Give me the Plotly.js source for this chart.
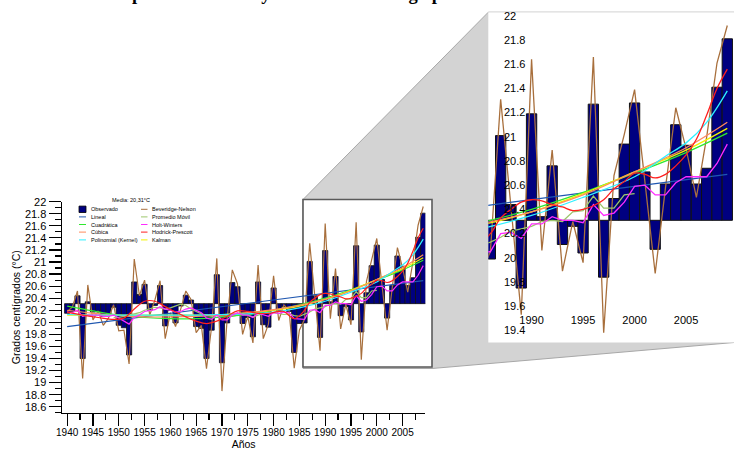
<!DOCTYPE html>
<html><head><meta charset="utf-8">
<script src="https://cdn.plot.ly/plotly-3.0.1.min.js"></script>
<style>html,body{margin:0;padding:0;background:#fff}#chart{width:734px;height:450px}</style>
</head><body><div id="chart"></div>
<script>
// ---------------- data ----------------
const years = [1940,1941,1942,1943,1944,1945,1946,1947,1948,1949,
  1950,1951,1952,1953,1954,1955,1956,1957,1958,1959,
  1960,1961,1962,1963,1964,1965,1966,1967,1968,1969,
  1970,1971,1972,1973,1974,1975,1976,1977,1978,1979,
  1980,1981,1982,1983,1984,1985,1986,1987,1988,1989,
  1990,1991,1992,1993,1994,1995,1996,1997,1998,1999,
  2000,2001,2002,2003,2004,2005,2006,2007,2008,2009];
const observado = [20.15,20.18,20.44,19.40,20.34,20.17,20.18,20.10,20.13,20.25,
  19.95,19.91,19.46,20.67,20.46,20.63,20.20,20.28,20.61,19.94,
  20.20,19.99,20.27,20.45,20.37,19.93,19.90,19.40,19.87,20.79,
  19.33,19.99,20.66,20.59,19.98,20.08,19.76,20.67,19.96,19.92,
  20.57,20.20,20.26,20.18,19.50,19.98,19.99,21.01,20.44,19.75,
  21.19,20.34,20.76,20.11,20.26,20.04,21.27,19.84,20.49,20.94,
  21.28,20.71,20.07,20.61,21.10,20.93,20.61,20.74,21.41,21.81];
const beveridgeNelson = [20.18,20.25,20.52,19.07,20.62,20.04,20.19,19.95,20.07,20.29,
  19.86,19.87,19.31,21.05,20.44,20.70,20.12,20.37,20.69,19.73,
  20.16,19.93,20.22,20.52,20.38,19.83,19.95,19.23,19.93,21.06,
  18.86,20.05,20.87,20.64,19.80,20.10,19.66,20.95,19.73,19.97,
  20.77,20.03,20.29,20.20,19.24,19.87,20.05,21.31,20.42,19.53,
  21.64,20.06,20.89,19.89,20.30,19.96,21.66,19.38,20.68,21.02,
  21.39,20.62,19.87,20.58,21.24,20.90,20.50,21.00,21.61,21.92];
const media = 20.31;

const linealYears = [1940, 2009];
const lineal = [19.93, 20.69];

const trendYears = [1940,1945,1950,1955,1960,1965,1970,1975,1980,1985,1990,1995,2000,2005,2009];
const cuadratica = [20.27,20.19,20.12,20.08,20.06,20.06,20.09,20.13,20.20,20.29,20.40,20.54,20.70,20.87,21.03];
const cubica     = [20.20,20.15,20.11,20.09,20.09,20.10,20.12,20.16,20.21,20.28,20.38,20.52,20.71,20.91,21.12];
const kalman     = [20.12,20.12,20.12,20.12,20.12,20.12,20.13,20.16,20.20,20.27,20.38,20.53,20.71,20.89,21.07];

const kernelYears = [1940,1945,1950,1955,1960,1965,1970,1975,1980,1985,1990,1995,2000,2003,2005,2007,2009];
const kernel = [20.13,20.12,20.12,20.12,20.12,20.12,20.13,20.14,20.17,20.24,20.35,20.50,20.67,20.84,20.95,21.12,21.38];

const hpYears = [1940,1943,1946,1949,1951,1953,1955,1957,1959,1961,1963,1965,1967,1969,1971,1973,1975,1977,1979,1981,1982,1984,1986,
  1987,1988,1989,1990,1991,1992,1993,1994,1995,1996,1997,1998,1999,2000,2001,2002,2003,2004,2005,2006,2007,2008,2009];
const hodrickPrescott = [20.17,20.12,20.08,20.05,20.07,20.22,20.35,20.35,20.26,20.17,20.09,20.02,19.98,20.02,20.10,20.19,20.18,20.15,20.15,20.18,20.18,20.06,20.20,
  20.33,20.40,20.46,20.48,20.47,20.44,20.42,20.39,20.40,20.43,20.48,20.57,20.63,20.70,20.69,20.66,20.69,20.76,20.85,20.98,21.18,21.40,21.56];

const holtWinters = [20.17,20.16,20.20,20.10,20.12,20.12,20.12,20.10,20.10,20.12,
  20.07,20.03,19.97,20.08,20.12,20.18,20.20,20.21,20.26,20.22,
  20.20,20.17,20.18,20.22,20.24,20.20,20.16,20.07,20.05,20.12,
  20.04,20.04,20.12,20.16,20.12,20.12,20.08,20.15,20.13,20.10,
  20.16,20.15,20.17,20.16,20.06,20.05,20.05,20.20,20.21,20.16,
  20.28,20.28,20.34,20.31,20.31,20.29,20.44,20.35,20.37,20.46,
  20.59,20.60,20.52,20.52,20.62,20.67,20.67,20.67,20.78,20.94];

const pmYears = [1949,1950,1951,1952,1953,1954,1955,1956,1957,1958,1959,
  1960,1961,1962,1963,1964,1965,1966,1967,1968,1969,
  1970,1971,1972,1973,1974,1975,1976,1977,1978,1979,
  1980,1981,1982,1983,1984,1985,1986,1987,1988,1989,
  1990,1991,1992,1993,1994,1995,1996,1997,1998,1999,2000];
const promedioMovil = [20.08,20.08,20.10,20.12,20.14,20.16,20.20,20.22,20.25,20.24,20.22,
  20.24,20.27,20.30,20.28,20.22,20.18,20.14,20.12,20.10,20.08,
  20.10,20.11,20.10,20.12,20.14,20.12,20.09,20.12,20.14,20.17,
  20.16,20.14,20.13,20.14,20.11,20.10,20.13,20.17,20.22,20.24,
  20.26,20.30,20.31,20.30,20.38,20.39,20.51,20.41,20.41,20.52,20.53];

const legendCol1 = ['Observado','Lineal','Cuadrática','Cúbica','Polinomial (Kernel)'];
const legendCol2 = ['Beveridge-Nelson','Promedio Móvil','Holt-Winters','Hodrick-Prescott','Kalman'];
const mediaLabel = 'Media: 20,31°C';
const chartTitle = 'Serie del promedio anual y tendencias de largo plazo';

// ---------------- styles ----------------
const C = {
  obs:'#000080', bn:'#a86f3c', lin:'#1f57b0', cua:'#2fe82f', cub:'#ff8a5c',
  ker:'#2ef0ff', pm:'#9cc66b', hw:'#ff2cff', hp:'#ff1f1f', kal:'#f2f200'
};
const W = 734, H = 450;
const px = x => x / W;
const py = y => 1 - y / H;
const FONT = 'Liberation Sans, Arial, sans-serif';

function lines(xa, ya, lw) {
  const L = (x, y, color, name, shape) => ({type:'scatter', mode:'lines', x, y, name,
    xaxis:xa, yaxis:ya, showlegend:false, hoverinfo:'skip',
    line:{color, width:lw, shape: shape || 'linear', smoothing:1}});
  return [
    {type:'bar', x:years, y:observado.map(v => v - media), base:media, name:'Observado',
      xaxis:xa, yaxis:ya, showlegend:false, hoverinfo:'skip', width:1,
      marker:{color:C.obs, line:{color:'#111', width: xa === 'x' ? 0.8 : 1}}},
    L(years, beveridgeNelson, C.bn, 'Beveridge-Nelson'),
    L(linealYears, lineal, C.lin, 'Lineal'),
    L(pmYears, promedioMovil, C.pm, 'Promedio Móvil'),
    L(trendYears, cuadratica, C.cua, 'Cuadrática', 'spline'),
    L(trendYears, kalman, C.kal, 'Kalman', 'spline'),
    L(trendYears, cubica, C.cub, 'Cúbica', 'spline'),
    L(kernelYears, kernel, C.ker, 'Polinomial (Kernel)', 'spline'),
    L(years, holtWinters, C.hw, 'Holt-Winters'),
    L(hpYears, hodrickPrescott, C.hp, 'Hodrick-Prescott', 'spline')
  ];
}
const data = lines('x', 'y', 1.2).concat(lines('x2', 'y2', 1.3));

// ---------------- decorations ----------------
const shapes = [];
shapes.push({type:'path', xref:'paper', yref:'paper', layer:'below',
  path:`M ${px(303)},${py(199.5)} L ${px(488.3)},${py(12.2)} L ${px(734)},${py(12.2)} L ${px(734)},${py(342.5)} L ${px(432)},${py(368.5)} L ${px(303)},${py(368.5)} Z`,
  fillcolor:'#d3d3d3', line:{color:'#a8a8a8', width:1}});
shapes.push({type:'rect', xref:'paper', yref:'paper', layer:'below',
  x0:px(303), x1:px(432), y0:py(367), y1:py(199.5),
  fillcolor:'#ffffff', line:{color:'#5a5a5a', width:1.6}});
shapes.push({type:'rect', xref:'paper', yref:'paper', layer:'below',
  x0:px(488.3), x1:1, y0:py(342.5), y1:py(12.2),
  fillcolor:'#ffffff', line:{width:0}});

const annotations = [];
const rowY = [209.3, 216.9, 224.5, 232.1, 239.9];
const col1Colors = [C.obs, C.lin, C.cua, C.cub, C.ker];
const col2Colors = [C.bn, C.pm, C.hw, C.hp, C.kal];
const lfont = {family:FONT, size:5.5, color:'#000'};
rowY.forEach((y, i) => {
  if (i === 0) {
    shapes.push({type:'rect', xref:'paper', yref:'paper', x0:px(79), x1:px(86), y0:py(y+3.2), y1:py(y-3.2),
      fillcolor:col1Colors[0], line:{color:'#000', width:0.8}});
  } else {
    shapes.push({type:'line', xref:'paper', yref:'paper', x0:px(79), x1:px(86), y0:py(y), y1:py(y),
      line:{color:col1Colors[i], width:1}});
  }
  shapes.push({type:'line', xref:'paper', yref:'paper', x0:px(141), x1:px(147.5), y0:py(y), y1:py(y),
    line:{color:col2Colors[i], width:1}});
  annotations.push({xref:'paper', yref:'paper', x:px(89.5), y:py(y), xanchor:'left', yanchor:'middle',
    text:legendCol1[i], showarrow:false, font:lfont, borderpad:0});
  annotations.push({xref:'paper', yref:'paper', x:px(150.5), y:py(y), xanchor:'left', yanchor:'middle',
    text:legendCol2[i], showarrow:false, font:lfont, borderpad:0});
});
annotations.push({xref:'paper', yref:'paper', x:px(130.5), y:py(200.3), xanchor:'center', yanchor:'middle',
  text:mediaLabel, showarrow:false, font:lfont, borderpad:0});
annotations.push({xref:'paper', yref:'paper', x:px(57), y:1, xanchor:'left', yanchor:'bottom', yshift:-6,
  text:'<b>' + chartTitle + '</b>', showarrow:false,
  font:{family:'Liberation Serif, Times New Roman, serif', size:18.5, color:'#000'}});

const insetF = {family:FONT, size:11, color:'#000'};
const inset = {range:[1985.8, 2009.65], yrange:[19.3, 22.03]};
const layout = {
  width:W, height:H, margin:{l:0, r:0, t:0, b:0},
  paper_bgcolor:'#ffffff', plot_bgcolor:'rgba(0,0,0,0)',
  showlegend:false, bargap:0, barmode:'overlay',
  xaxis:{domain:[px(62), px(425.3)], range:[1939, 2009.4], anchor:'y',
    showline:true, linecolor:'#000', linewidth:1.5, showgrid:false, zeroline:false,
    ticks:'outside', ticklen:12, tickwidth:1.2, tickcolor:'#000', tick0:1940, dtick:5, tickangle:0,
    ticklabelstandoff:-2,
    minor:{dtick:2.5, ticks:'outside', ticklen:6, tickwidth:1.2, tickcolor:'#000', showgrid:false},
    tickfont:{family:FONT, size:10, color:'#000'},
    title:{text:'Años', font:{family:FONT, size:10.5, color:'#000'}, standoff:7}},
  yaxis:{domain:[py(412.8), py(201.7)], range:[18.5, 22], anchor:'x',
    showline:true, linecolor:'#000', linewidth:1.5, showgrid:false, zeroline:false,
    ticks:'outside', ticklen:12, tickwidth:1.2, tickcolor:'#000', tick0:0, dtick:0.2,
    minor:{dtick:0.1, ticks:'outside', ticklen:6, tickwidth:1.2, tickcolor:'#000', showgrid:false},
    tickfont:{family:FONT, size:11, color:'#000'},
    title:{text:'Grados centígrados (°C)', font:{family:FONT, size:10.5, color:'#000'}, standoff:2}},
  xaxis2:{domain:[px(488.3), 1], range:inset.range, anchor:'free', position:py(311.5), side:'bottom',
    showline:false, showgrid:false, zeroline:false, ticks:'', tick0:1990, dtick:5, tickangle:0,
    tickfont:insetF},
  yaxis2:{domain:[py(342.5), py(12.2)], range:inset.yrange, anchor:'free', position:px(503), side:'right',
    showline:false, showgrid:false, zeroline:false, ticks:'', tick0:0, dtick:0.2,
    tickfont:insetF},
  xaxis3:{overlaying:'x2', anchor:'y3', side:'bottom', range:inset.range,
    showline:true, mirror:true, linecolor:'#000', linewidth:1.2, showgrid:false, zeroline:false, showticklabels:false,
    ticks:'inside', ticklen:6, tickwidth:1.2, tickcolor:'#000', tick0:1990, dtick:5,
    minor:{dtick:2.5, ticks:'inside', ticklen:6, tickwidth:1.2, tickcolor:'#000', showgrid:false}},
  yaxis3:{overlaying:'y2', anchor:'x3', side:'left', range:inset.yrange,
    showline:true, linecolor:'#000', linewidth:1.2, showgrid:false, zeroline:false, showticklabels:false,
    ticks:'inside', ticklen:13, tickwidth:1.2, tickcolor:'#000', tick0:0, dtick:0.2,
    minor:{dtick:0.1, ticks:'inside', ticklen:7, tickwidth:1.2, tickcolor:'#000', showgrid:false}},
  shapes, annotations
};
Plotly.newPlot('chart', data, layout, {displayModeBar:false, staticPlot:true});
</script>
</body></html>
